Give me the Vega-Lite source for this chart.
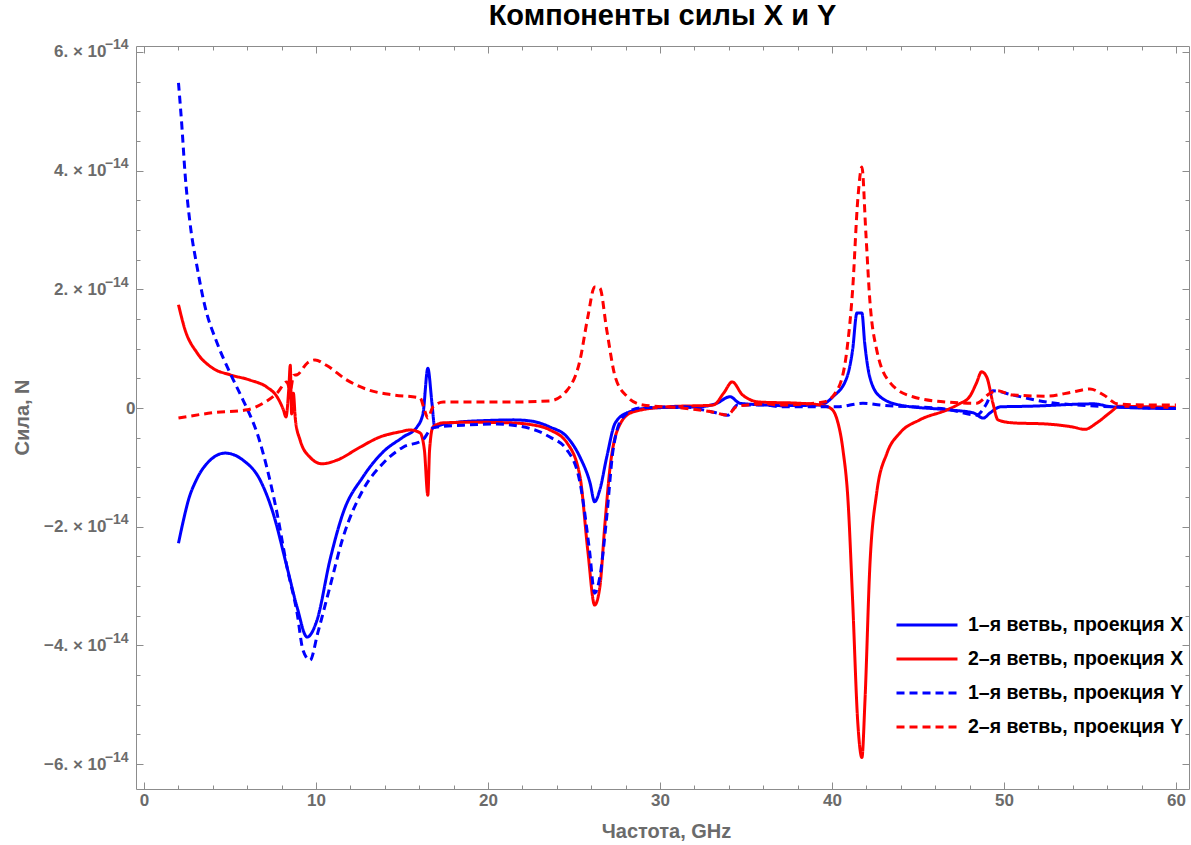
{
  "$schema": "https://vega.github.io/schema/vega-lite/v6.json",
  "width": 1053,
  "height": 743,
  "autosize": "none",
  "padding": {"left": 136, "top": 46, "right": 2, "bottom": 56},
  "background": "white",
  "title": {"text": "Компоненты силы X и Y", "fontSize": 29, "font": "Liberation Sans", "fontWeight": "bold", "color": "black", "anchor": "middle", "offset": 7},
  "config": {
    "view": {"stroke": null},
    "axis": {"grid": false, "domainColor": "#8c8c8c", "tickColor": "#8c8c8c", "labelColor": "#6b6b6b", "labelFont": "Liberation Sans", "labelFontWeight": "bold", "labelFontSize": 17, "titleFont": "Liberation Sans", "titleFontWeight": "bold", "titleFontSize": 20, "titleColor": "#6b6b6b", "domainWidth": 1, "tickWidth": 1}
  },
  "datasets": {
    "curves": [
      {"s":"1–я ветвь, проекция X","f":2.0,"F":-2.28e-14},
      {"s":"1–я ветвь, проекция X","f":2.29,"F":-1.89e-14},
      {"s":"1–я ветвь, проекция X","f":2.58,"F":-1.55e-14},
      {"s":"1–я ветвь, проекция X","f":3.06,"F":-1.2e-14},
      {"s":"1–я ветвь, проекция X","f":3.84,"F":-0.88e-14},
      {"s":"1–я ветвь, проекция X","f":4.71,"F":-0.76e-14},
      {"s":"1–я ветвь, проекция X","f":5.76,"F":-0.88e-14},
      {"s":"1–я ветвь, проекция X","f":6.74,"F":-1.21e-14},
      {"s":"1–я ветвь, проекция X","f":7.5,"F":-1.77e-14},
      {"s":"1–я ветвь, проекция X","f":8.31,"F":-2.68e-14},
      {"s":"1–я ветвь, проекция X","f":8.9,"F":-3.36e-14},
      {"s":"1–я ветвь, проекция X","f":9.48,"F":-3.86e-14},
      {"s":"1–я ветвь, проекция X","f":10.06,"F":-3.57e-14},
      {"s":"1–я ветвь, проекция X","f":10.81,"F":-2.56e-14},
      {"s":"1–я ветвь, проекция X","f":11.57,"F":-1.77e-14},
      {"s":"1–я ветвь, проекция X","f":12.73,"F":-1.16e-14},
      {"s":"1–я ветвь, проекция X","f":13.9,"F":-0.74e-14},
      {"s":"1–я ветвь, проекция X","f":15.06,"F":-0.49e-14},
      {"s":"1–я ветвь, проекция X","f":15.87,"F":-0.32e-14},
      {"s":"1–я ветвь, проекция X","f":16.22,"F":-0.09e-14},
      {"s":"1–я ветвь, проекция X","f":16.5,"F":0.67e-14},
      {"s":"1–я ветвь, проекция X","f":16.74,"F":0.08e-14},
      {"s":"1–я ветвь, проекция X","f":16.9,"F":-0.32e-14},
      {"s":"1–я ветвь, проекция X","f":17.3,"F":-0.28e-14},
      {"s":"1–я ветвь, проекция X","f":18.2,"F":-0.24e-14},
      {"s":"1–я ветвь, проекция X","f":20.0,"F":-0.21e-14},
      {"s":"1–я ветвь, проекция X","f":21.5,"F":-0.2e-14},
      {"s":"1–я ветвь, проекция X","f":22.5,"F":-0.22e-14},
      {"s":"1–я ветвь, проекция X","f":23.6,"F":-0.32e-14},
      {"s":"1–я ветвь, проекция X","f":24.6,"F":-0.49e-14},
      {"s":"1–я ветвь, проекция X","f":25.35,"F":-0.83e-14},
      {"s":"1–я ветвь, проекция X","f":25.93,"F":-1.26e-14},
      {"s":"1–я ветвь, проекция X","f":26.2,"F":-1.58e-14},
      {"s":"1–я ветвь, проекция X","f":26.5,"F":-1.38e-14},
      {"s":"1–я ветвь, проекция X","f":26.9,"F":-0.83e-14},
      {"s":"1–я ветвь, проекция X","f":27.4,"F":-0.25e-14},
      {"s":"1–я ветвь, проекция X","f":28.1,"F":-0.08e-14},
      {"s":"1–я ветвь, проекция X","f":29.4,"F":0.0},
      {"s":"1–я ветвь, проекция X","f":32.3,"F":0.02e-14},
      {"s":"1–я ветвь, проекция X","f":33.3,"F":0.08e-14},
      {"s":"1–я ветвь, проекция X","f":34.07,"F":0.19e-14},
      {"s":"1–я ветвь, проекция X","f":34.65,"F":0.08e-14},
      {"s":"1–я ветвь, проекция X","f":36.2,"F":0.05e-14},
      {"s":"1–я ветвь, проекция X","f":37.0,"F":0.04e-14},
      {"s":"1–я ветвь, проекция X","f":39.3,"F":0.05e-14},
      {"s":"1–я ветвь, проекция X","f":40.06,"F":0.19e-14},
      {"s":"1–я ветвь, проекция X","f":40.87,"F":0.52e-14},
      {"s":"1–я ветвь, проекция X","f":41.2,"F":0.98e-14},
      {"s":"1–я ветвь, проекция X","f":41.45,"F":1.6e-14},
      {"s":"1–я ветвь, проекция X","f":41.74,"F":1.6e-14},
      {"s":"1–я ветвь, проекция X","f":41.9,"F":1.1e-14},
      {"s":"1–я ветвь, проекция X","f":42.2,"F":0.52e-14},
      {"s":"1–я ветвь, проекция X","f":42.8,"F":0.19e-14},
      {"s":"1–я ветвь, проекция X","f":43.95,"F":0.05e-14},
      {"s":"1–я ветвь, проекция X","f":46.7,"F":-0.03e-14},
      {"s":"1–я ветвь, проекция X","f":48.2,"F":-0.08e-14},
      {"s":"1–я ветвь, проекция X","f":48.8,"F":-0.17e-14},
      {"s":"1–я ветвь, проекция X","f":49.2,"F":-0.08e-14},
      {"s":"1–я ветвь, проекция X","f":49.8,"F":0.02e-14},
      {"s":"1–я ветвь, проекция X","f":51.5,"F":0.03e-14},
      {"s":"1–я ветвь, проекция X","f":55.2,"F":0.07e-14},
      {"s":"1–я ветвь, проекция X","f":56.3,"F":0.02e-14},
      {"s":"1–я ветвь, проекция X","f":60.0,"F":-0.01e-14},

      {"s":"2–я ветвь, проекция X","f":2.0,"F":1.74e-14},
      {"s":"2–я ветвь, проекция X","f":2.38,"F":1.32e-14},
      {"s":"2–я ветвь, проекция X","f":3.08,"F":0.93e-14},
      {"s":"2–я ветвь, проекция X","f":4.0,"F":0.67e-14},
      {"s":"2–я ветвь, проекция X","f":5.0,"F":0.56e-14},
      {"s":"2–я ветвь, проекция X","f":6.16,"F":0.47e-14},
      {"s":"2–я ветвь, проекция X","f":7.15,"F":0.35e-14},
      {"s":"2–я ветвь, проекция X","f":7.73,"F":0.19e-14},
      {"s":"2–я ветвь, проекция X","f":8.1,"F":-0.03e-14},
      {"s":"2–я ветвь, проекция X","f":8.25,"F":-0.15e-14},
      {"s":"2–я ветвь, проекция X","f":8.42,"F":0.35e-14},
      {"s":"2–я ветвь, проекция X","f":8.5,"F":0.72e-14},
      {"s":"2–я ветвь, проекция X","f":8.58,"F":-0.1e-14},
      {"s":"2–я ветвь, проекция X","f":8.68,"F":0.25e-14},
      {"s":"2–я ветвь, проекция X","f":8.8,"F":-0.2e-14},
      {"s":"2–я ветвь, проекция X","f":9.07,"F":-0.54e-14},
      {"s":"2–я ветвь, проекция X","f":9.65,"F":-0.83e-14},
      {"s":"2–я ветвь, проекция X","f":10.35,"F":-0.94e-14},
      {"s":"2–я ветвь, проекция X","f":11.2,"F":-0.88e-14},
      {"s":"2–я ветвь, проекция X","f":12.56,"F":-0.66e-14},
      {"s":"2–я ветвь, проекция X","f":13.7,"F":-0.49e-14},
      {"s":"2–я ветвь, проекция X","f":14.9,"F":-0.4e-14},
      {"s":"2–я ветвь, проекция X","f":15.47,"F":-0.37e-14},
      {"s":"2–я ветвь, проекция X","f":16.05,"F":-0.42e-14},
      {"s":"2–я ветвь, проекция X","f":16.3,"F":-0.71e-14},
      {"s":"2–я ветвь, проекция X","f":16.5,"F":-1.47e-14},
      {"s":"2–я ветвь, проекция X","f":16.6,"F":-0.71e-14},
      {"s":"2–я ветвь, проекция X","f":16.8,"F":-0.32e-14},
      {"s":"2–я ветвь, проекция X","f":17.4,"F":-0.25e-14},
      {"s":"2–я ветвь, проекция X","f":19.1,"F":-0.24e-14},
      {"s":"2–я ветвь, проекция X","f":21.3,"F":-0.25e-14},
      {"s":"2–я ветвь, проекция X","f":22.5,"F":-0.28e-14},
      {"s":"2–я ветвь, проекция X","f":23.6,"F":-0.37e-14},
      {"s":"2–я ветвь, проекция X","f":24.6,"F":-0.59e-14},
      {"s":"2–я ветвь, проекция X","f":25.35,"F":-1.16e-14},
      {"s":"2–я ветвь, проекция X","f":25.8,"F":-2.4e-14},
      {"s":"2–я ветвь, проекция X","f":26.2,"F":-3.32e-14},
      {"s":"2–я ветвь, проекция X","f":26.5,"F":-3.02e-14},
      {"s":"2–я ветвь, проекция X","f":26.8,"F":-1.94e-14},
      {"s":"2–я ветвь, проекция X","f":27.1,"F":-0.99e-14},
      {"s":"2–я ветвь, проекция X","f":27.7,"F":-0.26e-14},
      {"s":"2–я ветвь, проекция X","f":28.4,"F":-0.07e-14},
      {"s":"2–я ветвь, проекция X","f":30.4,"F":0.02e-14},
      {"s":"2–я ветвь, проекция X","f":33.1,"F":0.05e-14},
      {"s":"2–я ветвь, проекция X","f":33.7,"F":0.25e-14},
      {"s":"2–я ветвь, проекция X","f":34.2,"F":0.44e-14},
      {"s":"2–я ветвь, проекция X","f":34.8,"F":0.22e-14},
      {"s":"2–я ветвь, проекция X","f":35.8,"F":0.1e-14},
      {"s":"2–я ветвь, проекция X","f":38.1,"F":0.08e-14},
      {"s":"2–я ветвь, проекция X","f":39.3,"F":0.05e-14},
      {"s":"2–я ветвь, проекция X","f":39.9,"F":0.0},
      {"s":"2–я ветвь, проекция X","f":40.3,"F":-0.2e-14},
      {"s":"2–я ветвь, проекция X","f":40.64,"F":-0.71e-14},
      {"s":"2–я ветвь, проекция X","f":40.93,"F":-1.55e-14},
      {"s":"2–я ветвь, проекция X","f":41.2,"F":-3.24e-14},
      {"s":"2–я ветвь, проекция X","f":41.5,"F":-5.3e-14},
      {"s":"2–я ветвь, проекция X","f":41.74,"F":-5.89e-14},
      {"s":"2–я ветвь, проекция X","f":41.92,"F":-4.92e-14},
      {"s":"2–я ветвь, проекция X","f":42.2,"F":-2.68e-14},
      {"s":"2–я ветвь, проекция X","f":42.6,"F":-1.43e-14},
      {"s":"2–я ветвь, проекция X","f":43.2,"F":-0.76e-14},
      {"s":"2–я ветвь, проекция X","f":43.95,"F":-0.42e-14},
      {"s":"2–я ветвь, проекция X","f":45.1,"F":-0.2e-14},
      {"s":"2–я ветвь, проекция X","f":46.7,"F":-0.03e-14},
      {"s":"2–я ветвь, проекция X","f":47.4,"F":0.07e-14},
      {"s":"2–я ветвь, проекция X","f":48.0,"F":0.19e-14},
      {"s":"2–я ветвь, проекция X","f":48.4,"F":0.42e-14},
      {"s":"2–я ветвь, проекция X","f":48.7,"F":0.61e-14},
      {"s":"2–я ветвь, проекция X","f":49.0,"F":0.52e-14},
      {"s":"2–я ветвь, проекция X","f":49.36,"F":0.08e-14},
      {"s":"2–я ветвь, проекция X","f":49.65,"F":-0.2e-14},
      {"s":"2–я ветвь, проекция X","f":50.5,"F":-0.25e-14},
      {"s":"2–я ветвь, проекция X","f":52.5,"F":-0.27e-14},
      {"s":"2–я ветвь, проекция X","f":54.0,"F":-0.32e-14},
      {"s":"2–я ветвь, проекция X","f":54.7,"F":-0.36e-14},
      {"s":"2–я ветвь, проекция X","f":55.4,"F":-0.25e-14},
      {"s":"2–я ветвь, проекция X","f":56.2,"F":-0.07e-14},
      {"s":"2–я ветвь, проекция X","f":56.7,"F":0.03e-14},
      {"s":"2–я ветвь, проекция X","f":58.3,"F":0.02e-14},
      {"s":"2–я ветвь, проекция X","f":60.0,"F":0.01e-14},

      {"s":"1–я ветвь, проекция Y","f":2.0,"F":5.48e-14},
      {"s":"1–я ветвь, проекция Y","f":2.2,"F":4.74e-14},
      {"s":"1–я ветвь, проекция Y","f":2.38,"F":3.96e-14},
      {"s":"1–я ветвь, проекция Y","f":2.67,"F":3.12e-14},
      {"s":"1–я ветвь, проекция Y","f":3.08,"F":2.38e-14},
      {"s":"1–я ветвь, проекция Y","f":3.55,"F":1.7e-14},
      {"s":"1–я ветвь, проекция Y","f":4.24,"F":1.1e-14},
      {"s":"1–я ветвь, проекция Y","f":5.0,"F":0.59e-14},
      {"s":"1–я ветвь, проекция Y","f":5.76,"F":0.13e-14},
      {"s":"1–я ветвь, проекция Y","f":6.16,"F":-0.12e-14},
      {"s":"1–я ветвь, проекция Y","f":6.57,"F":-0.42e-14},
      {"s":"1–я ветвь, проекция Y","f":6.92,"F":-0.76e-14},
      {"s":"1–я ветвь, проекция Y","f":7.73,"F":-1.77e-14},
      {"s":"1–я ветвь, проекция Y","f":8.31,"F":-2.68e-14},
      {"s":"1–я ветвь, проекция Y","f":8.9,"F":-3.46e-14},
      {"s":"1–я ветвь, проекция Y","f":9.24,"F":-4.08e-14},
      {"s":"1–я ветвь, проекция Y","f":9.65,"F":-4.25e-14},
      {"s":"1–я ветвь, проекция Y","f":10.1,"F":-3.79e-14},
      {"s":"1–я ветвь, проекция Y","f":10.8,"F":-3.02e-14},
      {"s":"1–я ветвь, проекция Y","f":11.57,"F":-2.18e-14},
      {"s":"1–я ветвь, проекция Y","f":12.73,"F":-1.38e-14},
      {"s":"1–я ветвь, проекция Y","f":13.9,"F":-0.93e-14},
      {"s":"1–я ветвь, проекция Y","f":15.06,"F":-0.66e-14},
      {"s":"1–я ветвь, проекция Y","f":16.2,"F":-0.54e-14},
      {"s":"1–я ветвь, проекция Y","f":16.63,"F":-0.37e-14},
      {"s":"1–я ветвь, проекция Y","f":17.0,"F":-0.32e-14},
      {"s":"1–я ветвь, проекция Y","f":18.55,"F":-0.29e-14},
      {"s":"1–я ветвь, проекция Y","f":20.5,"F":-0.27e-14},
      {"s":"1–я ветвь, проекция Y","f":22.5,"F":-0.35e-14},
      {"s":"1–я ветвь, проекция Y","f":23.6,"F":-0.49e-14},
      {"s":"1–я ветвь, проекция Y","f":24.6,"F":-0.71e-14},
      {"s":"1–я ветвь, проекция Y","f":25.35,"F":-1.26e-14},
      {"s":"1–я ветвь, проекция Y","f":25.9,"F":-2.4e-14},
      {"s":"1–я ветвь, проекция Y","f":26.2,"F":-3.12e-14},
      {"s":"1–я ветвь, проекция Y","f":26.5,"F":-2.85e-14},
      {"s":"1–я ветвь, проекция Y","f":26.9,"F":-1.84e-14},
      {"s":"1–я ветвь, проекция Y","f":27.27,"F":-0.71e-14},
      {"s":"1–я ветвь, проекция Y","f":27.85,"F":-0.15e-14},
      {"s":"1–я ветвь, проекция Y","f":28.8,"F":0.0},
      {"s":"1–я ветвь, проекция Y","f":31.3,"F":0.02e-14},
      {"s":"1–я ветвь, проекция Y","f":33.1,"F":-0.07e-14},
      {"s":"1–я ветвь, проекция Y","f":33.95,"F":-0.12e-14},
      {"s":"1–я ветвь, проекция Y","f":34.5,"F":0.05e-14},
      {"s":"1–я ветвь, проекция Y","f":36.2,"F":0.05e-14},
      {"s":"1–я ветвь, проекция Y","f":37.0,"F":0.02e-14},
      {"s":"1–я ветвь, проекция Y","f":40.3,"F":0.02e-14},
      {"s":"1–я ветвь, проекция Y","f":41.8,"F":0.08e-14},
      {"s":"1–я ветвь, проекция Y","f":42.8,"F":0.05e-14},
      {"s":"1–я ветвь, проекция Y","f":46.7,"F":-0.02e-14},
      {"s":"1–я ветвь, проекция Y","f":48.4,"F":-0.12e-14},
      {"s":"1–я ветвь, проекция Y","f":49.0,"F":0.08e-14},
      {"s":"1–я ветвь, проекция Y","f":49.36,"F":0.29e-14},
      {"s":"1–я ветвь, проекция Y","f":50.5,"F":0.22e-14},
      {"s":"1–я ветвь, проекция Y","f":52.5,"F":0.1e-14},
      {"s":"1–я ветвь, проекция Y","f":56.3,"F":0.02e-14},
      {"s":"1–я ветвь, проекция Y","f":60.0,"F":-0.01e-14},

      {"s":"2–я ветвь, проекция Y","f":2.0,"F":-0.17e-14},
      {"s":"2–я ветвь, проекция Y","f":4.0,"F":-0.08e-14},
      {"s":"2–я ветвь, проекция Y","f":6.0,"F":-0.03e-14},
      {"s":"2–я ветвь, проекция Y","f":6.92,"F":0.08e-14},
      {"s":"2–я ветвь, проекция Y","f":7.73,"F":0.25e-14},
      {"s":"2–я ветвь, проекция Y","f":8.3,"F":0.44e-14},
      {"s":"2–я ветвь, проекция Y","f":8.5,"F":0.3e-14},
      {"s":"2–я ветвь, проекция Y","f":8.7,"F":0.55e-14},
      {"s":"2–я ветвь, проекция Y","f":8.9,"F":0.56e-14},
      {"s":"2–я ветвь, проекция Y","f":9.5,"F":0.76e-14},
      {"s":"2–я ветвь, проекция Y","f":9.94,"F":0.81e-14},
      {"s":"2–я ветвь, проекция Y","f":10.6,"F":0.72e-14},
      {"s":"2–я ветвь, проекция Y","f":11.8,"F":0.47e-14},
      {"s":"2–я ветвь, проекция Y","f":13.1,"F":0.3e-14},
      {"s":"2–я ветвь, проекция Y","f":14.5,"F":0.22e-14},
      {"s":"2–я ветвь, проекция Y","f":16.05,"F":0.17e-14},
      {"s":"2–я ветвь, проекция Y","f":16.3,"F":-0.03e-14},
      {"s":"2–я ветвь, проекция Y","f":16.5,"F":-0.17e-14},
      {"s":"2–я ветвь, проекция Y","f":16.8,"F":0.02e-14},
      {"s":"2–я ветвь, проекция Y","f":17.4,"F":0.1e-14},
      {"s":"2–я ветвь, проекция Y","f":21.3,"F":0.1e-14},
      {"s":"2–я ветвь, проекция Y","f":23.6,"F":0.12e-14},
      {"s":"2–я ветвь, проекция Y","f":24.6,"F":0.3e-14},
      {"s":"2–я ветвь, проекция Y","f":25.35,"F":0.81e-14},
      {"s":"2–я ветвь, проекция Y","f":25.8,"F":1.53e-14},
      {"s":"2–я ветвь, проекция Y","f":26.2,"F":2.04e-14},
      {"s":"2–я ветвь, проекция Y","f":26.5,"F":2.02e-14},
      {"s":"2–я ветвь, проекция Y","f":26.9,"F":1.32e-14},
      {"s":"2–я ветвь, проекция Y","f":27.4,"F":0.52e-14},
      {"s":"2–я ветвь, проекция Y","f":28.1,"F":0.19e-14},
      {"s":"2–я ветвь, проекция Y","f":29.0,"F":0.05e-14},
      {"s":"2–я ветвь, проекция Y","f":31.3,"F":0.0},
      {"s":"2–я ветвь, проекция Y","f":33.1,"F":-0.07e-14},
      {"s":"2–я ветвь, проекция Y","f":33.9,"F":-0.12e-14},
      {"s":"2–я ветвь, проекция Y","f":34.5,"F":0.03e-14},
      {"s":"2–я ветвь, проекция Y","f":36.2,"F":0.07e-14},
      {"s":"2–я ветвь, проекция Y","f":37.0,"F":0.05e-14},
      {"s":"2–я ветвь, проекция Y","f":39.5,"F":0.1e-14},
      {"s":"2–я ветвь, проекция Y","f":40.3,"F":0.3e-14},
      {"s":"2–я ветвь, проекция Y","f":40.87,"F":0.98e-14},
      {"s":"2–я ветвь, проекция Y","f":41.2,"F":1.99e-14},
      {"s":"2–я ветвь, проекция Y","f":41.5,"F":3.51e-14},
      {"s":"2–я ветвь, проекция Y","f":41.74,"F":4.06e-14},
      {"s":"2–я ветвь, проекция Y","f":41.97,"F":2.95e-14},
      {"s":"2–я ветвь, проекция Y","f":42.2,"F":1.82e-14},
      {"s":"2–я ветвь, проекция Y","f":42.6,"F":0.98e-14},
      {"s":"2–я ветвь, проекция Y","f":43.4,"F":0.42e-14},
      {"s":"2–я ветвь, проекция Y","f":44.7,"F":0.19e-14},
      {"s":"2–я ветвь, проекция Y","f":46.7,"F":0.1e-14},
      {"s":"2–я ветвь, проекция Y","f":48.4,"F":0.08e-14},
      {"s":"2–я ветвь, проекция Y","f":49.2,"F":0.25e-14},
      {"s":"2–я ветвь, проекция Y","f":49.6,"F":0.29e-14},
      {"s":"2–я ветвь, проекция Y","f":50.5,"F":0.22e-14},
      {"s":"2–я ветвь, проекция Y","f":52.5,"F":0.2e-14},
      {"s":"2–я ветвь, проекция Y","f":54.0,"F":0.27e-14},
      {"s":"2–я ветвь, проекция Y","f":55.0,"F":0.32e-14},
      {"s":"2–я ветвь, проекция Y","f":55.8,"F":0.22e-14},
      {"s":"2–я ветвь, проекция Y","f":56.6,"F":0.07e-14},
      {"s":"2–я ветвь, проекция Y","f":58.3,"F":0.05e-14},
      {"s":"2–я ветвь, проекция Y","f":60.0,"F":0.05e-14}
    ]
  },
  "resolve": {"axis": {"x": "independent", "y": "independent"}},
  "layer": [
    {
      "mark": {"type": "rule", "color": "#dcdcdc", "strokeWidth": 1},
      "encoding": {
        "x": {"datum": 0, "type": "quantitative", "scale": {"domain": [-0.47, 60.76], "nice": false, "zero": false},
          "axis": {"orient": "top", "values": [0,2,4,6,8,10,12,14,16,18,20,22,24,26,28,30,32,34,36,38,40,42,44,46,48,50,52,54,56,58,60], "labels": false, "title": null,
            "tickSize": {"condition": {"test": "datum.value % 10 === 0", "value": -7}, "value": -4}}}
      }
    },
    {
      "mark": {"type": "rule", "color": "#dcdcdc", "strokeWidth": 1},
      "encoding": {
        "y": {"datum": 0, "type": "quantitative", "scale": {"domain": [-6.42e-14, 6.10e-14], "nice": false, "zero": false},
          "axis": {"orient": "right", "values": [-6e-14,-5.5e-14,-5e-14,-4.5e-14,-4e-14,-3.5e-14,-3e-14,-2.5e-14,-2e-14,-1.5e-14,-1e-14,-0.5e-14,0,0.5e-14,1e-14,1.5e-14,2e-14,2.5e-14,3e-14,3.5e-14,4e-14,4.5e-14,5e-14,5.5e-14,6e-14], "labels": false, "title": null,
            "tickSize": {"condition": {"test": "abs(datum.value*1e14/2 - round(datum.value*1e14/2)) < 0.01", "value": -7}, "value": -4}}}
      }
    },
    {
      "mark": {"type": "rule", "opacity": 0},
      "encoding": {
        "y": {"datum": 0, "type": "quantitative", "scale": {"domain": [-6.42e-14, 6.10e-14], "nice": false, "zero": false},
          "axis": {"orient": "left", "values": [-6e-14,-4e-14,-2e-14,2e-14,4e-14,6e-14], "labelExpr": "'−14'", "domain": false, "ticks": false, "title": null,
            "labelPadding": 8, "labelAlign": "right", "labelFontSize": 14, "labelOffset": -7}}
      }
    },
    {
      "data": {"name": "curves"},
      "mark": {"type": "line", "strokeWidth": 3, "interpolate": "monotone"},
      "encoding": {
        "x": {"field": "f", "type": "quantitative", "scale": {"domain": [-0.47, 60.76], "nice": false, "zero": false},
          "axis": {"orient": "bottom", "values": [0,2,4,6,8,10,12,14,16,18,20,22,24,26,28,30,32,34,36,38,40,42,44,46,48,50,52,54,56,58,60],
            "labelExpr": "datum.value % 10 === 0 ? format(datum.value, 'd') : ''", "labelPadding": 10,
            "tickSize": {"condition": {"test": "datum.value % 10 === 0", "value": -7}, "value": -4},
            "title": "Частота, GHz", "titleX": 530, "titleY": 42, "titleBaseline": "middle", "titleAlign": "center"}},
        "y": {"field": "F", "type": "quantitative", "scale": {"domain": [-6.42e-14, 6.10e-14], "nice": false, "zero": false},
          "axis": {"orient": "left", "values": [-6e-14,-5.5e-14,-5e-14,-4.5e-14,-4e-14,-3.5e-14,-3e-14,-2.5e-14,-2e-14,-1.5e-14,-1e-14,-0.5e-14,0,0.5e-14,1e-14,1.5e-14,2e-14,2.5e-14,3e-14,3.5e-14,4e-14,4.5e-14,5e-14,5.5e-14,6e-14],
            "labelExpr": "abs(datum.value*1e14/2 - round(datum.value*1e14/2)) < 0.01 ? (abs(datum.value) < 1e-20 ? '0' : (datum.value < 0 ? '−' : '') + format(abs(datum.value)*1e14, '.0f') + '. × 10') : ''",
            "labelPadding": {"condition": {"test": "abs(datum.value) < 1e-20", "value": 8}, "value": 37},
            "tickSize": {"condition": {"test": "abs(datum.value*1e14/2 - round(datum.value*1e14/2)) < 0.01", "value": -7}, "value": -4},
            "title": "Сила, N", "titleX": -114, "titleY": 371, "titleAngle": 270, "titleBaseline": "middle", "titleAlign": "center"}},
        "color": {"field": "s", "type": "nominal",
          "scale": {"domain": ["1–я ветвь, проекция X", "2–я ветвь, проекция X", "1–я ветвь, проекция Y", "2–я ветвь, проекция Y"], "range": ["#0000ff", "#ff0000", "#0000ff", "#ff0000"]},
          "legend": {"orient": "none", "legendX": 777, "legendY": 565, "title": null, "padding": 0, "symbolType": "M-2.5,0L2.5,0", "symbolSize": 595, "symbolStrokeWidth": 3, "labelFontSize": 19.5, "labelFont": "Liberation Sans", "labelFontWeight": "bold", "labelColor": "black", "labelOffset": 27, "rowPadding": 10, "labelLimit": 400}},
        "strokeDash": {"field": "s", "type": "nominal",
          "scale": {"domain": ["1–я ветвь, проекция X", "2–я ветвь, проекция X", "1–я ветвь, проекция Y", "2–я ветвь, проекция Y"], "range": [[1, 0], [1, 0], [8, 5], [8, 5]]},
          "legend": {"orient": "none", "legendX": 777, "legendY": 565, "title": null, "padding": 0, "symbolType": "M-2.5,0L2.5,0", "symbolSize": 595, "symbolStrokeWidth": 3, "labelFontSize": 19.5, "labelFont": "Liberation Sans", "labelFontWeight": "bold", "labelColor": "black", "labelOffset": 27, "rowPadding": 10, "labelLimit": 400}}
      }
    }
  ]
}
